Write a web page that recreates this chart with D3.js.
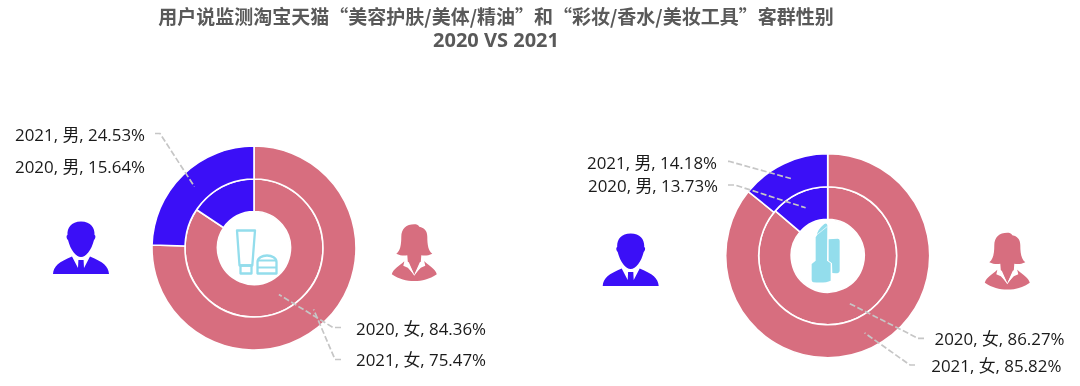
<!DOCTYPE html>
<html><head><meta charset="utf-8">
<script src="https://cdnjs.cloudflare.com/ajax/libs/d3/7.8.5/d3.min.js"></script>
<style>html,body{margin:0;padding:0;background:#fff}svg{display:block;filter:blur(0.35px)}
text{font-family:"Open Sans","Noto Sans CJK SC",sans-serif}</style></head><body>
<svg id="c" width="1080" height="386"></svg>
<script>
const titleLines = ["用户说监测淘宝天猫“美容护肤/美体/精油”和“彩妆/香水/美妆工具”客群性别", "2020 VS 2021"];
const years = ["2020", "2021"];
const genders = ["女", "男"];
const skincare2020 = [84.36, 15.64];
const skincare2021 = [75.47, 24.53];
const makeup2020 = [86.27, 13.73];
const makeup2021 = [85.82, 14.18];
const colors = ["#D76E7F", "#3B0FF7"];

const W = 1080, H = 386;
const svg = d3.select("#c");
const innerR = 36.5, midR = 69, outerR = 102;
const color = d3.scaleOrdinal(genders, colors);
const pie = d3.pie().sort(null).startAngle(0).endAngle(2 * Math.PI);
const arcs = [d3.arc().innerRadius(innerR).outerRadius(midR), d3.arc().innerRadius(midR).outerRadius(outerR)];

svg.append("g").selectAll("text").data(titleLines).join("text")
  .attr("x", 496).attr("y", (d, i) => 24 + i * 23)
  .attr("text-anchor", "middle").attr("font-size", (d, i) => i === 0 ? 19 : 20).attr("font-weight", 700)
  .attr("style", (d, i) => i === 0 ? 'font-family:"Noto Sans CJK SC",sans-serif' : "")
  .attr("fill", "#595959").text(d => d);

// layout: label left/centre-y, and leader end (null = no leader)
const layouts = [
  { cx: 254, cy: 248, series: [skincare2020, skincare2021], place: {
    "2020男": { x: 15, y: 166 },
    "2021男": { x: 15, y: 134.5, lx: 155, ly: 133.5, ex: 160 },
    "2020女": { x: 356, y: 328.5, lx: 341, ly: 327.5, ex: 333 },
    "2021女": { x: 356, y: 359.5, lx: 341, ly: 359.5, ex: 335 } } },
  { cx: 827.7, cy: 255.7, series: [makeup2020, makeup2021], place: {
    "2020男": { x: 588, y: 185.5, lx: 728, ly: 185, ex: 735 },
    "2021男": { x: 587, y: 162, lx: 728, ly: 161.3, ex: 729 },
    "2020女": { x: 934.5, y: 338, lx: 924, ly: 338.3, ex: 918 },
    "2021女": { x: 931.3, y: 365.5, lx: 915, ly: 365, ex: 910 } } }
];

layouts.forEach(L => {
  const g = svg.append("g").attr("transform", `translate(${L.cx},${L.cy})`);
  L.series.forEach((vals, s) => {
    g.append("g").selectAll("path").data(pie(vals)).join("path")
      .attr("d", arcs[s]).attr("fill", (d, i) => color(genders[i]))
      .attr("stroke", "#fff").attr("stroke-width", 1.6);
  });
  L.series.forEach((vals, s) => {
    pie(vals).forEach((d, i) => {
      const p = L.place[years[s] + genders[i]];
      const c = arcs[s].centroid(d);
      if (p.lx !== undefined) {
        const pts = [[p.lx, p.ly], [p.ex, p.ly], [L.cx + c[0], L.cy + c[1]]];
        svg.append("path").attr("d", d3.line()(pts)).attr("fill", "none")
          .attr("stroke", "#c6c6c6").attr("stroke-width", 1.7).attr("stroke-dasharray", "6 2.5");
      }
      svg.append("text").attr("x", p.x).attr("y", p.y).attr("dominant-baseline", "central")
        .attr("font-size", 16.9).attr("fill", "#1a1a1a")
        .text(`${years[s]}, ${genders[i]}, ${vals[i].toFixed(2)}%`);
    });
  });
});

// pictograms
const manBody = "M-28,0 C-27.5,-8 -22,-12 -9,-17.5 L-3,-6 L-2.6,-14 L2.6,-14 L3,-6 L9,-17.5 C22,-12 27.5,-8 28,0 Z";
const manHead = "M0,-52.5 C-10,-52.5 -14,-46 -13.5,-39 C-15,-38.5 -14.5,-35 -13,-34 C-10.5,-24 -5,-17 0,-17 C5,-17 10.5,-24 13,-34 C14.5,-35 15,-38.5 13.5,-39 C14,-46 10,-52.5 0,-52.5 Z";
const womanHair = "M0,-56.5 C-8,-56.5 -13,-52 -13,-44 C-13,-36 -14,-30 -18,-27 C-14,-25 -10,-25 -7,-25.5 L-6.5,-19 L0,-6 L6.5,-19 L7,-25.5 C10,-25 14,-25 18,-27 C14,-30 13,-36 13,-44 C13,-50 10,-53 5,-54 C4,-56 2,-56.5 0,-56.5 Z";
const womanBody = "M-22.5,-6.5 C-21,-12 -15,-15 -10,-19.5 L0,-5 L10,-19.5 C15,-15 21,-12 22.5,-6.5 C15,-1.5 8,0.3 0,0.3 C-8,0.3 -15,-1.5 -22.5,-6.5 Z";
const womanCollar = "M-9.8,-20 L-5.5,-18.5 L0,-6 L-6.5,-13 L-11,-15 Z M9.8,-20 L5.5,-18.5 L0,-6 L6.5,-13 L11,-15 Z";

function man(x, y) {
  const g = svg.append("g").attr("transform", `translate(${x},${y})`).attr("fill", colors[1]);
  g.append("path").attr("d", manBody);
  g.append("path").attr("d", manHead);
}
function woman(x, y) {
  const g = svg.append("g").attr("transform", `translate(${x},${y})`).attr("fill", colors[0]);
  g.append("path").attr("d", womanBody);
  g.append("path").attr("d", womanHair);
  g.append("path").attr("d", womanCollar).attr("fill", "#fff");
}
man(81, 274); man(630.7, 286);
woman(414.3, 280.7); woman(1007.3, 289.3);

// centre icons
const iconC = "#93DDEC";
const tube = svg.append("g").attr("fill", "none").attr("stroke", iconC).attr("stroke-width", 2.3).attr("stroke-linejoin", "round");
tube.append("path").attr("d", "M237,230.5 L255,230.5 L252.3,265.5 L239.5,265.5 Z");
tube.append("path").attr("d", "M240.5,265.5 L251.5,265.5 L251.5,273.5 L240.5,273.5 Z");
tube.append("path").attr("d", "M257.5,273.5 L257.5,262 C257.5,258 262,255.5 267,255.5 C272,255.5 276.5,258 276.5,262 L276.5,273.5 Z");
tube.append("path").attr("d", "M257.5,260.5 L276.5,260.5 M257.5,267.5 L276.5,267.5").attr("stroke-width", 1.8);

const stick = svg.append("g").attr("transform", "translate(795,220) scale(0.3333)").attr("fill", iconC);
stick.append("path").attr("d", "M101,58 L128,56 Q134,56 134,62 L134,152 Q133,160 122,160 L112,159 L111,130 L101,122 Z");
stick.append("path").attr("d", "M62,122 L62,52 L66,46 Q66,30 88,12 Q96,8 97,16 L96,122 L107,130 L107,182 Q92,190 55,187 Q50,186 50,180 L50,132 Z");
stick.append("path").attr("d", "M66,44 L96,20").attr("stroke", "#fff").attr("stroke-width", 2).attr("fill", "none");
</script></body></html>
